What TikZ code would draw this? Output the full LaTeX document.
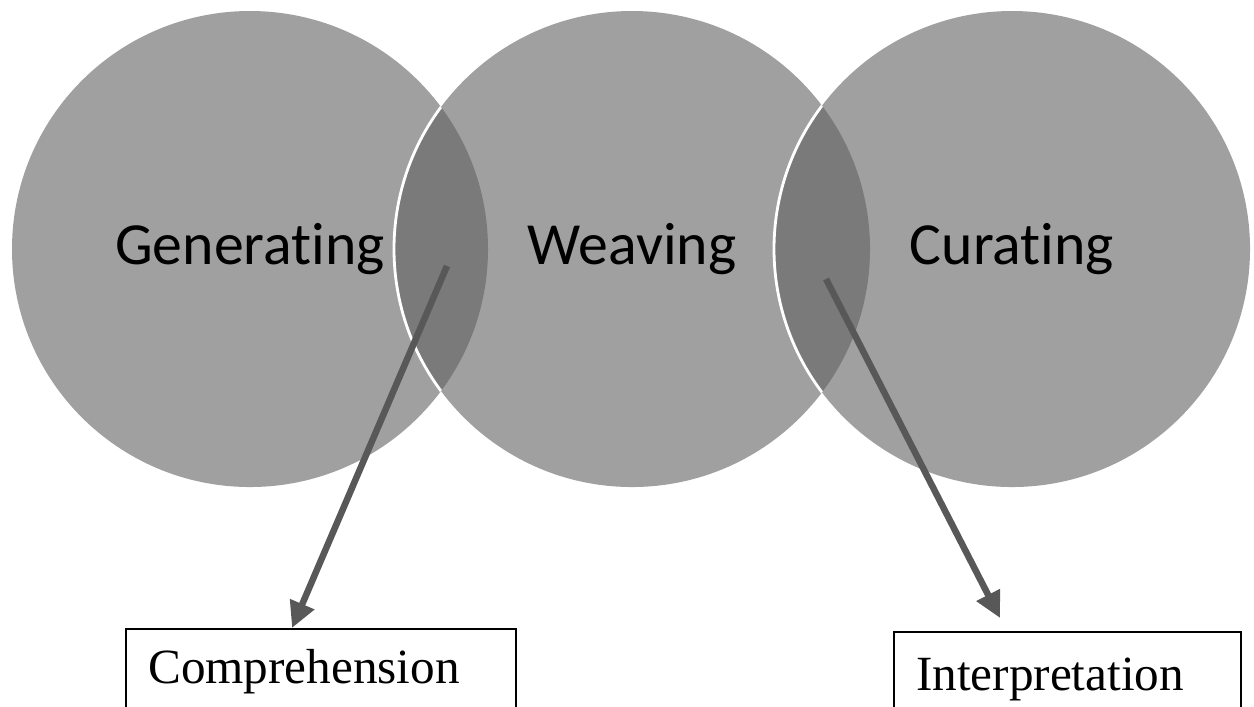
\documentclass[tikz,border=0pt]{standalone}
\usepackage{fontspec}
\setmainfont{Liberation Serif}
\newfontfamily\circfont[Ligatures=NoCommon]{Carlito}
\usetikzlibrary{arrows.meta}

\definecolor{circgray}{RGB}{160,160,160}
\definecolor{lensgray}{RGB}{122,122,122}
\definecolor{arrowgray}{RGB}{88,88,88}

\tikzset{
  stage/.style={circle, fill=circgray, minimum size=4.76cm, inner sep=0pt,
    font=\circfont\fontsize{17}{20}\selectfont},
  outcome/.style={draw, line width=0.7pt, anchor=north west, inner ysep=0pt,
    inner xsep=0.22cm, align=left, font=\fontsize{14}{16}\selectfont},
  pointer/.style={draw=arrowgray, line width=0.065cm,
    -{Triangle[length=0.26cm, width=0.25cm]}}
}

\begin{document}
\begin{tikzpicture}
\useasboundingbox (0,0) rectangle (12.54,-7.06);
\clip (0,0) rectangle (12.54,-7.06);

\node[stage] (gen) at (2.50,-2.49) {Generating};
\node[stage] (weave) at (6.32,-2.49) {Weaving};
\node[stage] (cur) at (10.12,-2.49) {Curating};

% overlaps
\begin{scope}
  \clip (gen.center) circle (2.38);
  \fill[lensgray] (weave.center) circle (2.38);
  \draw[white, line width=0.8pt] (weave.center) circle (2.38);
\end{scope}
\begin{scope}
  \clip (weave.center) circle (2.38);
  \fill[lensgray] (cur.center) circle (2.38);
  \draw[white, line width=0.8pt] (cur.center) circle (2.38);
\end{scope}

\node[outcome, text width=3.46cm, text height=0.54cm, text depth=0.6cm]
    (comp) at (1.25,-6.28) {Comprehension};
\node[outcome, text width=3.03cm, text height=0.58cm, text depth=0.6cm]
    (interp) at (8.93,-6.31) {Interpretation};

\coordinate (lensA) at (4.47,-2.66);
\coordinate (lensB) at (8.26,-2.79);

\draw[pointer] (lensA) -- ([xshift=1.67cm]comp.north west);
\draw[pointer] (lensB) -- ([xshift=1.07cm, yshift=0.13cm]interp.north west);

\end{tikzpicture}
\end{document}
